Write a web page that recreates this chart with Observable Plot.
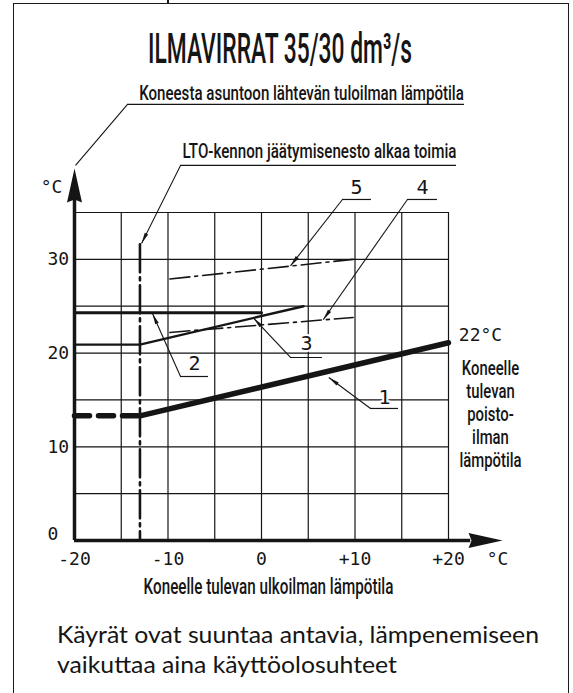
<!DOCTYPE html>
<html>
<head>
<meta charset="utf-8">
<script src="https://cdn.jsdelivr.net/npm/d3@7"></script>
<script src="https://cdn.jsdelivr.net/npm/@observablehq/plot@0.6"></script>
<style>
  html, body { margin: 0; padding: 0; background: #fff; }
  #page { position: relative; width: 573px; height: 693px; overflow: hidden; background: #fff; }
  #frame { position: absolute; left: 13px; top: 3px; width: 556px; height: 720px; border: 1.5px solid #1a1a1a; box-sizing: border-box; }
  #tick { position: absolute; left: 167px; top: 0; width: 1.5px; height: 4px; background: #1a1a1a; }
  #chart { position: absolute; left: 0; top: 0; }
  .fit { position: absolute; white-space: nowrap; transform-origin: 0 0; color: #151515; }
  #title { font-family: Roboto, sans-serif; font-weight: 500; font-size: 42px; line-height: 42px; top: 28px; }
  .note { font-family: Lato, sans-serif; font-size: 23px; line-height: 30px; }
  #note1 { top: 619px; }
  #note2 { top: 649px; }
</style>
</head>
<body>
<div id="page">
  <div id="frame"></div>
  <div id="tick"></div>
  <div id="chart"></div>
  <div id="title" class="fit">ILMAVIRRAT 35/30 dm³/s</div>
  <div id="note1" class="fit note">Käyrät ovat suuntaa antavia, lämpenemiseen</div>
  <div id="note2" class="fit note">vaikuttaa aina käyttöolosuhteet</div>
</div>
<script>
// ---------- data ----------
const xTickValues = [-20, -10, 0, 10, 20];
const xTickLabels = ["-20", "-10", "0", "+10", "+20"];
const yTickValues = [0, 10, 20, 30];
const yTickLabels = ["0", "10", "20", "30"];
const gridXValues = [-15, -10, -5, 0, 5, 10, 15, 20];
const gridYValues = [5, 10, 15, 20, 25, 30, 35];

// [outdoor air °C, temperature °C]
const curve1Dashed = [[-20, 13.3], [-13, 13.3]];
const curve1 = [[-13, 13.3], [20, 21.1]];
const curve2 = [[-20, 24.3], [0, 24.3]];
const curve3 = [[-20, 20.9], [-13, 20.9], [4.5, 25.0]];
const curve4 = [[-9.8, 22.2], [9.8, 23.8]];
const curve5 = [[-9.8, 27.9], [9.8, 30.0]];
const frostLine = [[-13, 31.6], [-13, 0]];

// curve number labels: label position, underline, arrow tip on the curve
const curveLabels = [
  {text: "1", x: 13.16, y: 15.26, ux1: 11.66, ux2: 14.65, uy: 14.09, tipX: 7.2, tipY: 17.4},
  {text: "2", x: -7.17, y: 18.84, ux1: -8.66, ux2: -5.67, uy: 17.5, tipX: -11.66, tipY: 24.22},
  {text: "3", x: 4.81, y: 20.97, ux1: 3.1, ux2: 6.52, uy: 19.53, tipX: -0.86, tipY: 23.74},
  {text: "4", x: 17.22, y: 37.67, ux1: 15.61, ux2: 18.82, uy: 36.39, tipX: 6.6, tipY: 23.55},
  {text: "5", x: 10.16, y: 37.67, ux1: 8.66, ux2: 11.76, uy: 36.39, tipX: 3.1, tipY: 29.3}
];

// long annotations above the plot
const supplyNote = {text: "Koneesta asuntoon lähtevän tuloilman lämpötila", x: 4.28, y: 47.75, ux1: -14.33, ux2: 21.71, uy: 46.53, tipX: -19.89, tipY: 40.02};
const frostNote = {text: "LTO-kennon jäätymisenesto alkaa toimia", x: 6.2, y: 41.51, ux1: -8.66, ux2: 20.86, uy: 40.02, tipX: -12.83, tipY: 31.69};

const xAxisTitle = "Koneelle tulevan ulkoilman lämpötila";
const exhaustLabel = "Koneelle\ntulevan\npoisto-\nilman\nlämpötila";
const exhaustTemp = "22°C";
const unitLabel = "°C";

// ---------- layout ----------
const W = 573, H = 693;
const plotLeft = 74, plotRight = 448, plotTop = 212, plotBottom = 540;
const xDomain = [-20, 20], yDomain = [0, 35];
const KX = (plotRight - plotLeft) / (xDomain[1] - xDomain[0]);
const KY = (plotBottom - plotTop) / (yDomain[1] - yDomain[0]);
const yAxisTip = 39.7, xAxisTip = 25.78;

const ink = "#151515";
const mono = "'DejaVu Sans Mono', monospace";
const cond = "Roboto, sans-serif";

const leaderHead = {draw(ctx) { ctx.moveTo(0, 0); ctx.lineTo(-11, -1.9); ctx.lineTo(-11, 1.9); ctx.closePath(); }};
const axisHead = {draw(ctx) { ctx.moveTo(0, 0); ctx.lineTo(-34, -7.5); ctx.lineTo(-31, 0); ctx.lineTo(-34, 7.5); ctx.closePath(); }};
const angle = d => Math.atan2(-(d.tipY - d.uy) * KY, (d.tipX - d.ux1) * KX) * 180 / Math.PI;

const allLeaders = [...curveLabels, frostNote];
const yTickIdx = yTickValues.map((d, i) => i);

const chart = Plot.plot({
  width: W, height: H,
  marginLeft: plotLeft, marginRight: W - plotRight, marginTop: plotTop, marginBottom: H - plotBottom,
  x: {domain: xDomain, axis: null},
  y: {domain: yDomain, axis: null},
  style: {background: "transparent", overflow: "visible"},
  marks: [
    // grid
    Plot.ruleX(gridXValues, {y1: 0, y2: 35, stroke: ink, strokeWidth: 1.2}),
    Plot.ruleY(gridYValues, {x1: -20, x2: 20, stroke: ink, strokeWidth: 1.2}),
    // curves
    Plot.line(frostLine, {stroke: ink, strokeWidth: 2.6, strokeDasharray: "28,5,3,5"}),
    Plot.line(curve5, {stroke: ink, strokeWidth: 1.6, strokeDasharray: "20,5,3,5"}),
    Plot.line(curve4, {stroke: ink, strokeWidth: 1.6, strokeDasharray: "20,5,3,5"}),
    Plot.line(curve3, {stroke: ink, strokeWidth: 2.4}),
    Plot.line(curve2, {stroke: ink, strokeWidth: 3}),
    Plot.line(curve1Dashed, {stroke: ink, strokeWidth: 5.5, strokeDasharray: "15,9"}),
    Plot.line(curve1, {stroke: ink, strokeWidth: 5.5}),
    // axes with arrows
    Plot.ruleX([-20], {y1: 0, y2: yAxisTip - 3.2, stroke: ink, strokeWidth: 3.5}),
    Plot.ruleY([0], {x1: -20, x2: xAxisTip - 3.4, stroke: ink, strokeWidth: 3.5}),
    Plot.dot([[-20, yAxisTip]], {symbol: axisHead, rotate: -90, fill: ink, stroke: "none"}),
    Plot.dot([[xAxisTip, 0]], {symbol: axisHead, rotate: 0, fill: ink, stroke: "none"}),
    // tick labels (the zero label sits a little above the axis line)
    Plot.text(yTickIdx.filter(i => yTickValues[i] !== 0), {x: -20, y: i => yTickValues[i], text: i => yTickLabels[i], textAnchor: "start", dx: -27, fontFamily: mono, fontSize: 18, fill: ink}),
    Plot.text(yTickIdx.filter(i => yTickValues[i] === 0), {x: -20, y: i => yTickValues[i], text: i => yTickLabels[i], textAnchor: "start", dx: -27, dy: -6, fontFamily: mono, fontSize: 18, fill: ink}),
    Plot.text(xTickValues, {x: d => d, y: 0, text: (d, i) => xTickLabels[i], dy: 19, fontFamily: mono, fontSize: 18, fill: ink}),
    Plot.text([unitLabel], {x: xAxisTip, y: 0, text: d => d, dx: -5, dy: 19, fontFamily: mono, fontSize: 18, fill: ink}),
    Plot.text([unitLabel], {x: -20, y: 37.67, text: d => d, dx: -23, fontFamily: mono, fontSize: 18, fill: ink}),
    // curve number labels with leaders
    Plot.ruleY(curveLabels, {y: "uy", x1: "ux1", x2: "ux2", stroke: ink, strokeWidth: 1.2}),
    Plot.link(allLeaders, {x1: "ux1", y1: "uy", x2: "tipX", y2: "tipY", stroke: ink, strokeWidth: 1.1}),
    Plot.dot(allLeaders, {x: "tipX", y: "tipY", symbol: leaderHead, rotate: angle, fill: ink, stroke: "none"}),
    Plot.text(curveLabels, {x: "x", y: "y", text: "text", fontFamily: mono, fontSize: 20, fill: ink, stroke: "white", strokeWidth: 4}),
    // long annotations
    Plot.ruleY([supplyNote, frostNote], {y: "uy", x1: "ux1", x2: "ux2", stroke: ink, strokeWidth: 1.2}),
    Plot.link([supplyNote], {x1: "ux1", y1: "uy", x2: "tipX", y2: "tipY", stroke: ink, strokeWidth: 1.1}),
    Plot.text([supplyNote], {x: "x", y: "y", text: "text", fontFamily: cond, fontWeight: 500, fontSize: 21, fill: ink, ariaLabel: () => "fit 325"}),
    Plot.text([frostNote], {x: "x", y: "y", text: "text", fontFamily: cond, fontWeight: 500, fontSize: 21, fill: ink, ariaLabel: () => "fit 274"}),
    // axis title and right-hand labels
    Plot.text([xAxisTitle], {x: 0.75, y: 0, text: d => d, dy: 46, fontFamily: cond, fontWeight: 500, fontSize: 22, fill: ink, ariaLabel: () => "fit 250"}),
    Plot.text([exhaustTemp], {x: 23.42, y: 21.88, text: d => d, fontFamily: mono, fontSize: 18, fill: ink}),
    Plot.text([exhaustLabel], {x: 24.49, y: 13.5, text: d => d, lineHeight: 1.15, fontFamily: cond, fontWeight: 500, fontSize: 20, fill: ink, ariaLabel: () => "fit 62"})
  ]
});
document.getElementById("chart").appendChild(chart);

// condense texts (reference uses a condensed typeface)
chart.querySelectorAll('[aria-label^="fit"]').forEach(el => {
  const target = +el.getAttribute("aria-label").split(" ")[1];
  const texts = el.tagName.toLowerCase() === "text" ? [el] : Array.from(el.querySelectorAll("text"));
  texts.forEach(t => {
    const w = t.getBBox().width;
    const s = target / w;
    const tr = t.getAttribute("transform");
    if (tr) t.setAttribute("transform", tr + ` scale(${s},1)`);
    else {
      const x = +(t.getAttribute("x") || 0), y = +(t.getAttribute("y") || 0);
      t.setAttribute("transform", `translate(${x},${y}) scale(${s},1) translate(${-x},${-y})`);
    }
  });
});

function fitHtml(el, target, left) {
  const w = el.getBoundingClientRect().width;
  const s = target / w;
  el.style.transform = `scaleX(${s})`;
  el.style.left = left + "px";
  return s;
}
fitHtml(document.getElementById("title"), 264, 280 - 132);
const n1 = document.getElementById("note1");
const s1 = fitHtml(n1, 482, 57);
const n2 = document.getElementById("note2");
n2.style.transform = `scaleX(${s1})`;
n2.style.left = "57px";
</script>
</body>
</html>
